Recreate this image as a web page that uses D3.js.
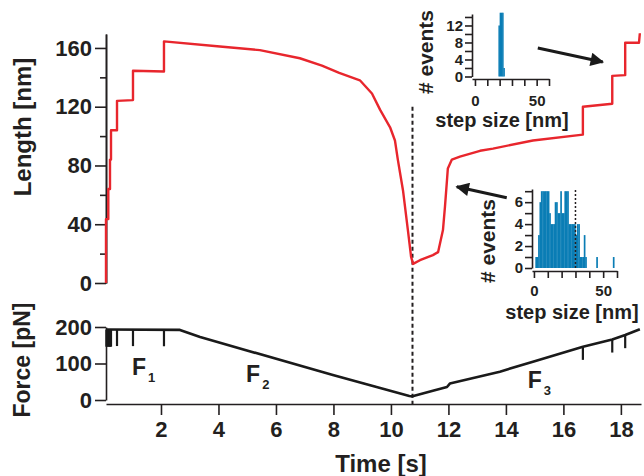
<!DOCTYPE html>
<html>
<head>
<meta charset="utf-8">
<script src="https://cdn.jsdelivr.net/npm/d3@7"></script>
<style>
  body { margin: 0; background: #fff; }
  text { font-family: "Liberation Sans", Arial, sans-serif; font-weight: bold; fill: #231f20; }
  .axis path, .axis line { stroke: #231f20; stroke-width: 1.6; }
</style>
</head>
<body>
<svg id="chart" width="644" height="476"></svg>
<script>
// length trace: time [s] / length [nm]
var lenTime = [0.087, 0.087, 0.167, 0.167, 0.226, 0.226, 0.261, 0.261, 0.47, 0.47, 1.026, 1.026, 2.104, 2.104,
  4.05, 5.44, 6.83, 7.6, 8.2, 8.92, 9.34, 9.62, 9.97, 10.14, 10.24, 10.42, 10.59, 10.70, 10.77, 11.01, 11.46,
  11.64, 11.81, 11.88, 11.95, 11.98, 12.12, 12.4, 13.1, 13.55, 14.94, 16.678, 16.678, 17.70, 17.70, 18.15, 18.15, 18.63, 18.66];
var lenNm = [0, 43.5, 43.5, 64, 64, 84, 84, 104, 104, 124, 124.5, 144.5, 144, 164.5,
  161, 158.5, 153, 148, 143, 138, 129, 118, 106, 97, 84, 63, 36, 18, 13, 15.5, 19,
  21, 36, 52, 70, 78, 84, 86, 90, 91.5, 97, 101, 120, 122, 141, 141.5, 163.5, 163.5, 170];

// force trace: time [s] / force [pN]
var forceTime = [0.087, 2.66, 3.36, 7.98, 10.64, 10.75, 11.46, 11.95, 12.05, 13.79, 14.94, 16.68, 17.70, 18.15, 18.66];
var forcePn = [193, 192, 172.5, 68.5, 11, 10, 25.5, 35.6, 45, 77.6, 105, 146, 166, 178, 194];

// force drops at the unfolding steps
var spikeTime = [0.1, 0.13, 0.167, 0.2, 0.226, 0.261, 0.47, 1.026, 2.104, 16.678, 17.70, 18.15];
var spikeDrop = [47, 47, 47, 47, 47, 47, 45, 45, 45, 36, 36, 36];

// histogram (top inset): step size bin [nm] / events
var histAbin = [19, 20, 21, 22, 23];
var histAcount = [12, 15, 15, 15, 2];

// histogram (lower inset)
var histBbin = [1, 2, 3, 4, 5, 6, 7, 8, 9, 10, 11, 12, 13, 14, 15, 16, 17, 18, 19, 20, 21, 22, 23, 24,
  25, 26, 27, 28, 29, 30, 31, 32, 33, 34, 35, 36, 37, 45, 57];
var histBcount = [1, 1, 3, 6, 7, 7, 7, 7, 7, 7, 5, 4, 4, 4, 6, 6, 5, 5, 7, 5, 5, 7, 7, 7,
  4, 4, 4, 4, 4, 3, 4, 4, 1, 1, 1, 3, 1, 1, 1];

var timeTicks = [2, 4, 6, 8, 10, 12, 14, 16, 18];
var lengthTicks = [0, 40, 80, 120, 160];
var lengthMinor = [20, 60, 100, 140];
var forceTicks = [0, 100, 200];
var stepTicks = [0, 10, 20, 30, 40, 50, 60];

var svg = d3.select("#chart");

var x = d3.scaleLinear().domain([0.087, 18.7]).range([106, 641]);
var yL = d3.scaleLinear().domain([0, 169.5]).range([283, 34]);
var yF = d3.scaleLinear().domain([0, 200]).range([400, 327]);

function style(g, size) {
  g.selectAll("text").style("font-size", size + "px");
  return g;
}

// length axis
style(svg.append("g").attr("class", "axis").attr("transform", "translate(106,0)")
  .call(d3.axisLeft(yL).tickValues(lengthTicks).tickSize(11).tickPadding(3).tickSizeOuter(0)), 22);
svg.append("g").attr("class", "axis").attr("transform", "translate(106,0)")
  .call(d3.axisLeft(yL).tickValues(lengthMinor).tickSize(6).tickFormat("").tickSizeOuter(0));

// force axis
style(svg.append("g").attr("class", "axis").attr("transform", "translate(106,0)")
  .call(d3.axisLeft(yF).tickValues(forceTicks).tickSize(11).tickPadding(3).tickSizeOuter(0)), 22);

// time axis
style(svg.append("g").attr("class", "axis").attr("transform", "translate(0,404)")
  .call(d3.axisBottom(x).tickValues(timeTicks).tickSize(11).tickPadding(6).tickSizeOuter(0)), 22);

// titles
svg.append("text").attr("transform", "translate(31,127) rotate(-90)").attr("text-anchor", "middle")
  .style("font-size", "24px").text("Length [nm]");
svg.append("text").attr("transform", "translate(30,360) rotate(-90)").attr("text-anchor", "middle")
  .style("font-size", "23px").text("Force [pN]");
svg.append("text").attr("x", 381).attr("y", 472).attr("text-anchor", "middle")
  .style("font-size", "24px").text("Time [s]");

// dashed marker at the force minimum
svg.append("line").attr("x1", x(10.75)).attr("x2", x(10.75)).attr("y1", yL(120)).attr("y2", 404)
  .attr("stroke", "#231f20").attr("stroke-width", 2).attr("stroke-dasharray", "4,3");

// length trace
var lenData = lenTime.map(function (t, i) { return [t, lenNm[i]]; });
svg.append("path").datum(lenData)
  .attr("fill", "none").attr("stroke", "#e8262d").attr("stroke-width", 2.4).attr("stroke-linejoin", "round")
  .attr("d", d3.line().x(function (d) { return x(d[0]); }).y(function (d) { return yL(d[1]); }));

// force trace
var forceData = forceTime.map(function (t, i) { return [t, forcePn[i]]; });
svg.append("path").datum(forceData)
  .attr("fill", "none").attr("stroke", "#1a1a1a").attr("stroke-width", 2.6).attr("stroke-linejoin", "round")
  .attr("d", d3.line().x(function (d) { return x(d[0]); }).y(function (d) { return yF(d[1]); }));

var forceAt = d3.scaleLinear().domain(forceTime).range(forcePn);
svg.append("g").selectAll("line").data(spikeTime).enter().append("line")
  .attr("x1", function (d) { return x(d); }).attr("x2", function (d) { return x(d); })
  .attr("y1", function (d) { return yF(forceAt(d)); })
  .attr("y2", function (d, i) { return yF(forceAt(d) - spikeDrop[i]); })
  .attr("stroke", "#1a1a1a").attr("stroke-width", 2.2);

// F labels
var fLabels = [["1", 0.99, 68], ["2", 4.96, 49], ["3", 14.76, 33]];
fLabels.forEach(function (f) {
  var t = svg.append("text").attr("x", x(f[1])).attr("y", yF(f[2])).style("font-size", "23px");
  t.append("tspan").text("F");
  t.append("tspan").attr("dy", 7).attr("dx", 2).style("font-size", "13px").text(f[0]);
});

// arrows
svg.append("defs").append("marker").attr("id", "head").attr("viewBox", "0 0 10 10")
  .attr("refX", 9).attr("refY", 5).attr("markerWidth", 5).attr("markerHeight", 4.5)
  .attr("markerUnits", "strokeWidth").attr("orient", "auto")
  .append("path").attr("d", "M0,0L10,5L0,10z").attr("fill", "#1a1a1a");
var arrows = [[15.11, 160, 17.37, 150.5], [14.03, 58, 12.29, 65.5]];
arrows.forEach(function (a) {
  svg.append("line").attr("x1", x(a[0])).attr("y1", yL(a[1])).attr("x2", x(a[2])).attr("y2", yL(a[3]))
    .attr("stroke", "#1a1a1a").attr("stroke-width", 3).attr("marker-end", "url(#head)");
});

// inset histogram
function inset(opt) {
  var xs = d3.scaleLinear().domain([opt.xmin, 60]).range(opt.xr);
  var ys = d3.scaleLinear().domain([0, opt.ymax]).range(opt.yr);
  var g = svg.append("g");
  g.selectAll("rect").data(opt.bins).enter().append("rect")
    .attr("x", function (d) { return xs(d); })
    .attr("width", function (d) { return xs(d + 1) - xs(d) + 0.3; })
    .attr("y", function (d, i) { return ys(opt.counts[i]); })
    .attr("height", function (d, i) { return ys(0) - ys(opt.counts[i]); })
    .attr("fill", "#0a7db5");
  style(g.append("g").attr("class", "axis").attr("transform", "translate(" + opt.xr[0] + ",0)")
    .call(d3.axisLeft(ys).tickValues(opt.yticks).tickSize(7).tickPadding(2).tickSizeOuter(0)
      .tickFormat(function (d) { return d % opt.ylab === 0 ? d : ""; })), 15);
  style(g.append("g").attr("class", "axis").attr("transform", "translate(0," + opt.xaxisY + ")")
    .call(d3.axisBottom(xs).tickValues(stepTicks).tickSize(7).tickPadding(opt.xpad).tickSizeOuter(0)
      .tickFormat(function (d) { return d % 50 === 0 ? d : ""; })), 15);
  g.append("text").attr("transform", "translate(" + opt.ylabX + "," + opt.ylabY + ") rotate(-90)")
    .attr("text-anchor", "middle").style("font-size", "21px").text("# events");
  g.append("text").attr("x", opt.xlabX).attr("y", opt.xlabY).attr("text-anchor", "middle")
    .style("font-size", "20px").text("step size [nm]");
  return { x: xs, y: ys, g: g };
}

inset({
  bins: histAbin, counts: histAcount, xmin: -2.4, xr: [472, 549], ymax: 14.7, yr: [76.5, 14],
  yticks: [0, 2, 4, 6, 8, 10, 12, 14], ylab: 4, xaxisY: 79, xpad: 9,
  ylabX: 433, ylabY: 52, xlabX: 502, xlabY: 127
});

var b = inset({
  bins: histBbin, counts: histBcount, xmin: -1.4, xr: [532, 617], ymax: 7.2, yr: [268, 189],
  yticks: [0, 1, 2, 3, 4, 5, 6, 7], ylab: 2, xaxisY: 271, xpad: 7,
  ylabX: 495, ylabY: 241, xlabX: 572, xlabY: 319
});
b.g.append("line").attr("x1", b.x(30)).attr("x2", b.x(30)).attr("y1", b.y(7.1)).attr("y2", b.y(0))
  .attr("stroke", "#231f20").attr("stroke-width", 1.5).attr("stroke-dasharray", "2,2");
</script>
</body>
</html>
